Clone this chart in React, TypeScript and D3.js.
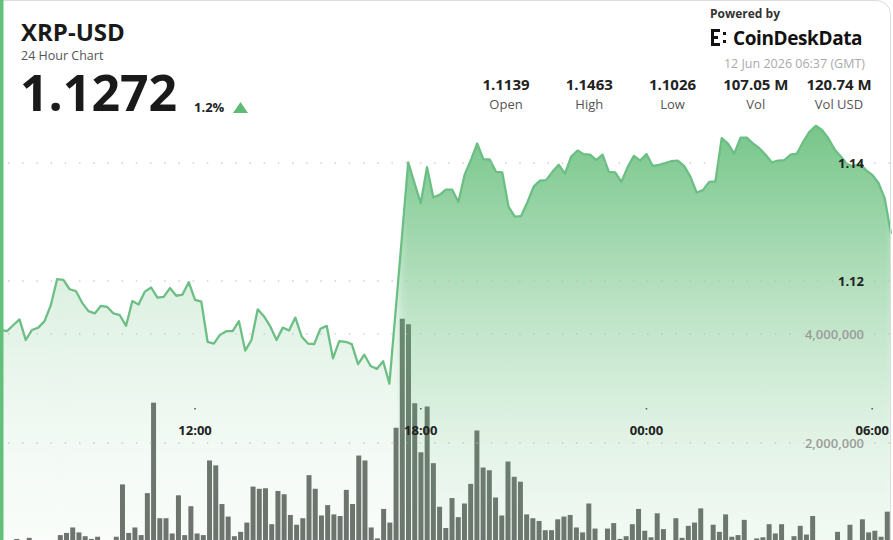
import * as d3 from "d3";

// 24h of 10-minute candles, 11 Jun 06:40 UTC -> 12 Jun 06:30 UTC
const START = Date.UTC(2026, 5, 11, 6, 40);
const STEP_MS = 10 * 60 * 1000;

const prices = [
  1.1122, 1.1117, 1.1115, 1.1125, 1.1135, 1.11, 1.1117, 1.1121, 1.1132, 1.1159,
  1.1203, 1.1202, 1.1186, 1.1183, 1.1163, 1.1149, 1.1145, 1.1158, 1.1156, 1.1145,
  1.1142, 1.1124, 1.1166, 1.116, 1.1182, 1.1189, 1.1172, 1.1173, 1.1188, 1.1175,
  1.1177, 1.1198, 1.1168, 1.1165, 1.1097, 1.1094, 1.1109, 1.1115, 1.1115, 1.1132,
  1.1082, 1.11, 1.1152, 1.114, 1.1123, 1.11, 1.1121, 1.1116, 1.1138, 1.1106,
  1.1094, 1.1093, 1.1119, 1.1124, 1.1069, 1.1098, 1.1097, 1.1093, 1.1059, 1.1075,
  1.1056, 1.1051, 1.1064, 1.1026, 1.115, 1.1275, 1.1401, 1.1366, 1.1332, 1.1393,
  1.1342, 1.1346, 1.1355, 1.1355, 1.1334, 1.138, 1.1405, 1.1433, 1.1406, 1.1406,
  1.1385, 1.1384, 1.1326, 1.1309, 1.131, 1.1333, 1.136, 1.137, 1.1371, 1.1385,
  1.1397, 1.1382, 1.1411, 1.1421, 1.1415, 1.1414, 1.1405, 1.1414, 1.1385, 1.1384,
  1.1368, 1.1393, 1.1412, 1.1404, 1.1415, 1.1395, 1.1397, 1.14, 1.1403, 1.1404,
  1.1395, 1.1377, 1.135, 1.1354, 1.1368, 1.1369, 1.1442, 1.1433, 1.1416, 1.1443,
  1.1443, 1.1433, 1.1425, 1.1414, 1.1401, 1.1404, 1.1405, 1.1414, 1.1416, 1.1436,
  1.1453, 1.1463, 1.1456, 1.1442, 1.1423, 1.1411, 1.1398, 1.1394, 1.1399, 1.1388,
  1.138, 1.1366, 1.134, 1.128,
];

// volume per candle, millions of XRP
const volumes = [
  0.12, 0.1, 0.12, 0.24, 0.1, 0.26, 0.12, 0.08, 0.1, 0.15,
  0.31, 0.35, 0.45, 0.36, 0.29, 0.24, 0.28, 0.22, 0.12, 0.28,
  1.24, 0.35, 0.45, 0.31, 1.08, 2.74, 0.62, 0.62, 0.34, 1.04,
  0.31, 0.84, 0.34, 0.31, 1.68, 1.59, 0.88, 0.65, 0.29, 0.37,
  0.54, 1.2, 1.16, 1.17, 0.51, 1.12, 1.06, 0.68, 0.5, 0.62,
  1.41, 1.16, 0.67, 0.86, 0.69, 0.66, 1.14, 0.88, 1.77, 1.68,
  0.45, 0.25, 0.79, 0.54, 2.28, 4.28, 4.18, 2.73, 1.83, 2.67,
  1.63, 0.83, 0.44, 0.99, 0.64, 0.89, 1.25, 2.23, 1.55, 1.5,
  1.0, 0.67, 1.66, 1.38, 1.29, 0.69, 0.62, 0.57, 0.4, 0.4,
  0.6, 0.65, 0.68, 0.45, 0.36, 0.89, 0.43, 0.15, 0.43, 0.53,
  0.24, 0.29, 0.51, 0.79, 0.39, 0.27, 0.71, 0.42, 0.15, 0.62,
  0.26, 0.48, 0.54, 0.8, 0.2, 0.5, 0.37, 0.69, 0.28, 0.31,
  0.59, 0.15, 0.25, 0.27, 0.51, 0.34, 0.51, 0.15, 0.29, 0.48,
  0.32, 0.66, 0.12, 0.1, 0.12, 0.37, 0.12, 0.5, 0.12, 0.6,
  0.36, 0.39, 0.28, 0.74,
].map((v) => v * 1e6);

const statValues = ["1.1139", "1.1463", "1.1026", "107.05 M", "120.74 M"];
const statLabels = ["Open", "High", "Low", "Vol", "Vol USD"];

const symbol = "XRP-USD";
const subtitle = "24 Hour Chart";
const lastPrice = "1.1272";
const change = "1.2%";
const stamp = "12 Jun 2026 06:37 (GMT)";

const times = prices.map((_, i) => new Date(START + i * STEP_MS));

const W = 893;
const H = 540;
const FONT = "'Open Sans', 'Noto Sans', sans-serif";
const GREEN = "#60bc76";

export default function App() {
  const x = d3.scaleUtc([times[0], times[times.length - 1]], [-5.6, 891]);
  const xb = d3.scaleBand<number>(d3.range(volumes.length), [-5.6, 891]).padding(0.2);
  const yPrice = d3.scaleLinear([1.1, 1.15], [399, 104]);
  const yVol = d3.scaleLinear([0, 4e6], [552, 334]);

  const area = d3
    .area<number>()
    .x((_, i) => x(times[i]))
    .y0(yVol(0))
    .y1((d) => yPrice(d));
  const line = d3
    .line<number>()
    .x((_, i) => x(times[i]))
    .y((d) => yPrice(d));

  const [pMin, pMax] = d3.extent(prices) as [number, number];
  const priceTicks = d3.ticks(pMin, pMax, 2);
  const volTicks = d3.ticks(0, d3.max(volumes)!, 2).filter((v) => v > 0);
  const timeTicks = x.ticks(d3.utcHour.every(6)!);
  const fmtTime = d3.utcFormat("%H:%M");
  const fmtVol = d3.format(",");

  // lower stretches of the line get a paler fill
  const strength = d3.scaleLinear([1.12, 1.13], [0.45, 1]).clamp(true);
  const [r0, r1] = x.range();

  const statX = d3.scalePoint(statLabels, [506, 839]);
  const gridX0 = 8;
  const gridX1 = 890;

  return (
    <svg
      width={W}
      height={H}
      style={{ position: "absolute", left: 0, top: 0, background: "#fff" }}
      fontFamily={FONT}
    >
      <defs>
        <linearGradient
          id="fade"
          gradientUnits="userSpaceOnUse"
          x1={0}
          x2={0}
          y1={yPrice(pMax)}
          y2={yVol(0)}
        >
          <stop offset="0" stopColor={GREEN} stopOpacity={0.85} />
          <stop offset="0.45" stopColor={GREEN} stopOpacity={0.4} />
          <stop offset="0.75" stopColor={GREEN} stopOpacity={0.17} />
          <stop offset="1" stopColor={GREEN} stopOpacity={0.07} />
        </linearGradient>
        <linearGradient id="cols" gradientUnits="userSpaceOnUse" x1={r0} x2={r1} y1={0} y2={0}>
          {prices.map((p, i) => (
            <stop
              key={i}
              offset={(x(times[i]) - r0) / (r1 - r0)}
              stopColor="#fff"
              stopOpacity={strength(p)}
            />
          ))}
        </linearGradient>
        <mask id="colMask" maskUnits="userSpaceOnUse" x={-10} y={0} width={W + 20} height={H + 20}>
          <rect x={-10} y={0} width={W + 20} height={H + 20} fill="url(#cols)" />
        </mask>
      </defs>

      <rect width={W} height={H} fill="#fff" />

      {/* volume bars */}
      <g fill="#6e716e">
        {volumes.map((v, i) => (
          <rect
            key={i}
            x={xb(i)}
            y={yVol(v)}
            width={xb.bandwidth()}
            height={yVol(0) - yVol(v)}
          />
        ))}
      </g>

      {/* price area + line */}
      <path d={area(prices)!} fill="url(#fade)" mask="url(#colMask)" />
      <path d={line(prices)!} fill="none" stroke="#6cbf84" strokeWidth={2.3} strokeLinejoin="round" />

      {/* dotted grid */}
      <g stroke="#b9b9b9" strokeWidth={1} strokeDasharray="1.5 12.7">
        {priceTicks.map((t) => (
          <line key={"p" + t} x1={gridX0} x2={gridX1} y1={yPrice(t)} y2={yPrice(t)} />
        ))}
        {volTicks.map((t) => (
          <line key={"v" + t} x1={gridX0} x2={gridX1} y1={yVol(t)} y2={yVol(t)} />
        ))}
      </g>

      {priceTicks.map((t) => (
        <text
          key={"pl" + t}
          x={864}
          y={yPrice(t)}
          dy="0.35em"
          textAnchor="end"
          fontSize={13}
          fontWeight={700}
          fill="#222"
        >
          {t.toFixed(2)}
        </text>
      ))}
      {volTicks.map((t) => (
        <text
          key={"vl" + t}
          x={864}
          y={yVol(t)}
          dy="0.35em"
          textAnchor="end"
          fontSize={13}
          fontWeight={600}
          fill="#9a9d9a"
        >
          {fmtVol(t)}
        </text>
      ))}

      {timeTicks.map((t) => (
        <g key={+t} transform={`translate(${x(t)},0)`}>
          <rect x={-0.75} y={408} width={1.5} height={1.5} fill="#555" />
          <text y={435} textAnchor="middle" fontSize={13} fontWeight={700} fill="#222">
            {fmtTime(t)}
          </text>
        </g>
      ))}

      {/* header left */}
      <text x={21} y={41} fontSize={24} fontWeight={700} fill="#1a1a1a">
        {symbol}
      </text>
      <text x={21} y={59.5} fontSize={12.5} fill="#555">
        {subtitle}
      </text>
      <text x={20} y={111} fontSize={50} fontWeight={700} fill="#1a1a1a">
        {lastPrice}
      </text>
      <text x={194} y={112} fontSize={13} fontWeight={700} fill="#222">
        {change}
      </text>
      <path d="M233,113 L240.5,102 L248,113 Z" fill="#5dbb76" />

      {/* header right */}
      <text x={710} y={18} fontSize={12} fontWeight={700} fill="#333">
        Powered by
      </text>
      <g fill="#111">
        <rect x={711} y={29} width={3} height={17} />
        <rect x={711} y={29} width={9} height={3} />
        <rect x={711} y={43} width={9} height={3} />
        <rect x={714} y={36} width={4} height={3} />
        <rect x={723} y={32} width={3} height={3} />
        <rect x={723} y={40} width={3} height={3} />
      </g>
      <text x={733} y={45} fontSize={19} fontWeight={700} fill="#111" letterSpacing={-0.4}>
        CoinDeskData
      </text>
      <text x={865} y={68} textAnchor="end" fontSize={12.5} fill="#aaa">
        {stamp}
      </text>
      {statLabels.map((lab, i) => (
        <g key={lab} transform={`translate(${statX(lab)},0)`} textAnchor="middle">
          <text y={90} fontSize={15} fontWeight={700} fill="#222">
            {statValues[i]}
          </text>
          <text y={109} fontSize={13} fill="#555">
            {lab}
          </text>
        </g>
      ))}

      {/* card frame */}
      <rect x={-20} y={0.5} width={910.5} height={H + 40} rx={14} fill="none" stroke="#dcdcdc" />
      <rect x={0} y={0} width={3.5} height={H} fill="#62c07a" />
    </svg>
  );
}
